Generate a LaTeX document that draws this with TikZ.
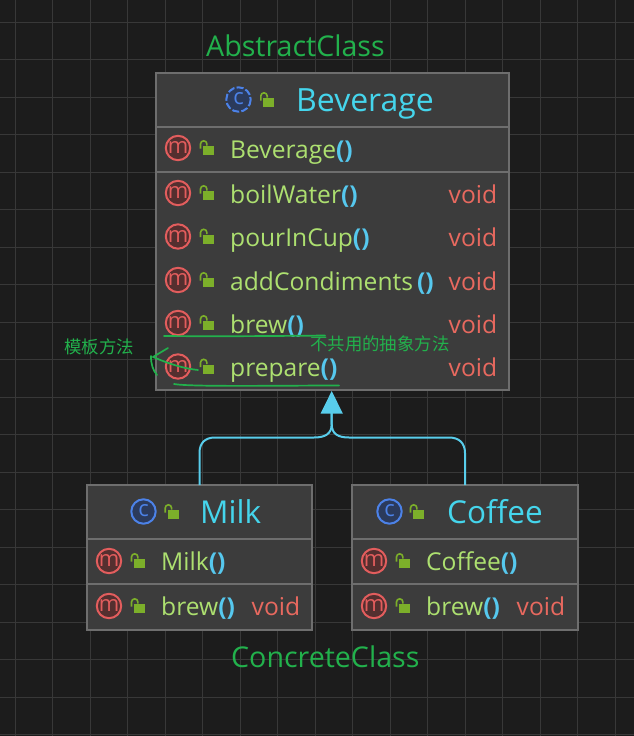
\documentclass[tikz,border=0pt]{standalone}
\usepackage{fontspec}
\setmainfont{Open Sans}
\newfontfamily\cjk{Noto Sans CJK SC}
\usetikzlibrary{arrows.meta}
\definecolor{bgc}{HTML}{1C1C1C}
\definecolor{gridc}{HTML}{383838}
\definecolor{boxc}{HTML}{3C3C3C}
\definecolor{edgec}{HTML}{6E6E6E}
\definecolor{titlec}{HTML}{45D5EC}
\definecolor{methc}{HTML}{ADE070}
\definecolor{parenc}{HTML}{56C8EE}
\definecolor{voidc}{HTML}{E8695F}
\definecolor{iconr}{HTML}{E25D5D}
\definecolor{iconrf}{HTML}{542F2F}
\definecolor{iconb}{HTML}{4C82E8}
\definecolor{iconbf}{HTML}{2B3A5C}
\definecolor{lockc}{HTML}{7CAF2A}
\definecolor{annot}{HTML}{22B14C}
\definecolor{linkc}{HTML}{58CDEB}
\tikzset{
  classbox/.style={draw=edgec,fill=boxc,line width=2pt,outer sep=0pt},
  divider/.style={draw=edgec,line width=2pt},
  gridline/.style={draw=gridc,line width=1pt},
  titletext/.style={text=titlec,font=\fontsize{32}{36}\selectfont,anchor=base west,inner sep=0pt},
  titletextb/.style={text=titlec,font=\fontsize{31.5}{36}\selectfont,anchor=base west,inner sep=0pt},
  methtext/.style={text=methc,font=\fontsize{24.6}{28}\selectfont,anchor=base west,inner sep=0pt},
  voidtext/.style={text=voidc,font=\fontsize{24.6}{28}\selectfont,anchor=base west,inner sep=0pt},
  labeltext/.style={text=annot,font=\fontsize{28.6}{32}\selectfont,anchor=base west,inner sep=0pt},
  notetext/.style={text=annot,font=\cjk\fontsize{17.4}{20}\selectfont,anchor=base west,inner sep=0pt},
  ink/.style={draw=annot,line width=1.7pt,line cap=round,line join=round},
  link/.style={draw=linkc,line width=2pt},
  tip/.style={fill=linkc,draw=none},
}
\newcommand{\parens}{{\color{parenc}\bfseries()}}
\newcommand{\lockat}[2]{%
  \fill[lockc] (#1-3.5,#2-2) rectangle (#1+7.5,#2+7);
  \draw[lockc,line width=1.6pt] (#1-6,#2+0.5) -- (#1-6,#2-4) arc (180:360:3.2) -- (#1+0.4,#2-2.5);
}
\newcommand{\micon}[2]{%
  \draw[iconr,fill=iconrf,line width=2pt] (#1,#2) circle (12.2);
  \node[inner sep=0pt,text=iconr,font=\fontsize{22}{22}\selectfont] at (#1,#2-0.3) {m};
  \lockat{#1+28.5}{#2}
}
\begin{document}
\begin{tikzpicture}[x=1pt,y=-1pt]
\useasboundingbox (0,0) rectangle (634,736);
\fill[bgc] (0,0) rectangle (634,736);
\foreach \k in {0,...,16} {\draw[gridline] ({15+37.5*\k},0) -- ({15+37.5*\k},736);}
\foreach \k in {0,...,19} {\draw[gridline] (0,{22+37.5*\k}) -- (634,{22+37.5*\k});}

% Beverage
\node[classbox,minimum width=353pt,minimum height=317pt,anchor=north west,inner sep=0pt] (bev) at (156,73) {};
\draw[divider] (156,127) -- (509,127);
\draw[divider] (156,172) -- (509,172);
\draw[iconb,fill=iconbf,line width=2pt,dash pattern=on 7pt off 2.2pt] (238.5,99.5) circle (12.2);
\node[inner sep=0pt,text=iconb,font=\fontsize{22}{22}\selectfont] (bevc) at (238.5,99) {c};
\lockat{266.8}{100}
\node[titletext] (bevt) at (296,111) {Beverage};
\micon{178}{148}
\node[methtext] (m0) at (230,158) {Beverage\parens};
\micon{178}{193}
\node[methtext] (m1) at (230,203) {boilWater\parens};
\node[voidtext] (v1) at (448.5,203) {void};
\micon{178}{236.5}
\node[methtext] (m2) at (230,246) {pourInCup\parens};
\node[voidtext] (v2) at (448.5,246) {void};
\micon{178}{280}
\node[methtext] (m3) at (230,290) {addCondiments\,\parens};
\node[voidtext] (v3) at (448.5,290) {void};
\micon{178}{323}
\node[methtext] (m4) at (230,333) {brew\parens};
\node[voidtext] (v4) at (448.5,333) {void};
\micon{178}{366.5}
\node[methtext] (m5) at (230,376) {prepare\parens};
\node[voidtext] (v5) at (448.5,376) {void};

% Milk
\node[classbox,minimum width=225pt,minimum height=145pt,anchor=north west,inner sep=0pt] (milk) at (87,485) {};
\draw[divider] (87,539) -- (312,539);
\draw[divider] (87,584) -- (312,584);
\draw[iconb,fill=iconbf,line width=2pt] (143.5,511.5) circle (12.2);
\node[inner sep=0pt,text=iconb,font=\fontsize{22}{22}\selectfont] (milkc) at (143.5,511) {c};
\lockat{171.2}{512}
\node[titletextb] (milkt) at (200,523) {Milk};
\micon{109}{561}
\node[methtext] (mm0) at (161,570) {Milk\parens};
\micon{109}{606}
\node[methtext] (mm1) at (161,615) {brew\parens};
\node[voidtext] (mv1) at (251.5,615) {void};

% Coffee
\node[classbox,minimum width=226pt,minimum height=145pt,anchor=north west,inner sep=0pt] (cof) at (352,485) {};
\draw[divider] (352,539) -- (578,539);
\draw[divider] (352,584) -- (578,584);
\draw[iconb,fill=iconbf,line width=2pt] (389.5,511.5) circle (12.2);
\node[inner sep=0pt,text=iconb,font=\fontsize{22}{22}\selectfont] (cofc) at (389.5,511) {c};
\lockat{416.5}{512}
\node[titletextb] (coft) at (447,523) {Coffee};
\micon{374}{561}
\node[methtext] (cm0) at (426,570) {Coffee\parens};
\micon{374}{606}
\node[methtext] (cm1) at (426,615) {brew\parens};
\node[voidtext] (cv1) at (516.5,615) {void};

% connectors
\coordinate (tipbase) at (331.7,412);
\coordinate (tippt) at (331.7,391);
\draw[link] (199.5,485) -- (199.5,453) .. controls (199.5,443) and (205,437.5) .. (215,437.5) -- (314,437.5) .. controls (325,437.5) and (331.7,434) .. (331.7,424) -- (tipbase);
\draw[link] (465,485) -- (465,453) .. controls (465,443) and (459,437.5) .. (449,437.5) -- (349,437.5) .. controls (338,437.5) and (331.7,434) .. (331.7,424) -- (tipbase);
\fill[tip] (tippt) -- (342.8,413.5) -- (320.6,413.5) -- cycle;

% labels
\node[labeltext] (abs) at (206,56) {AbstractClass};
\node[labeltext] (con) at (231,667) {ConcreteClass};
\node[notetext] (n1) at (64,353) {模板方法};
\node[notetext] (n2) at (310,350) {不共用的抽象方法};

% ink
\draw[ink] (164,336) .. controls (220,336.5) and (280,336) .. (325,335.5);
\draw[ink] (174,384) .. controls (190,387) and (280,385.5) .. (339,385.5);
\draw[ink] (198,370) .. controls (180,368) and (165,362) .. (153,357) -- (168,348);
\draw[ink] (151,356) .. controls (151,365) and (153,370) .. (157,375);
\end{tikzpicture}
\end{document}
